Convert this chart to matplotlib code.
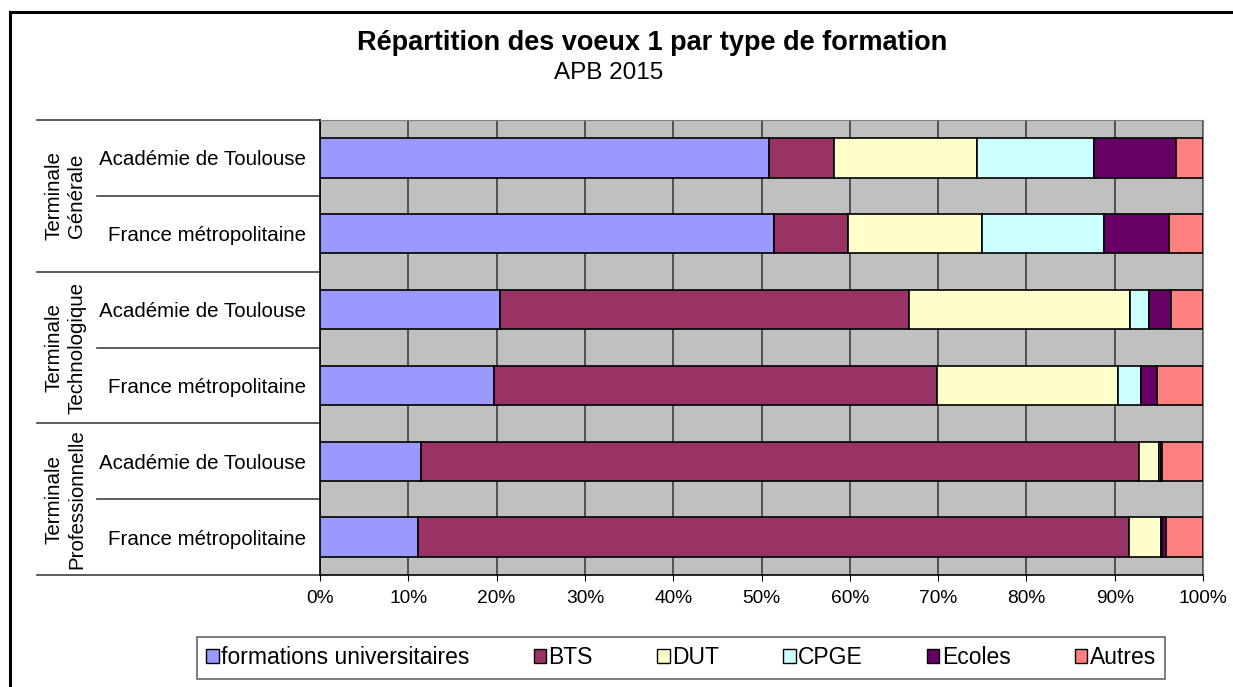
import numpy as np
import matplotlib.pyplot as plt
from matplotlib.patches import Patch
from matplotlib.lines import Line2D

plt.rcParams['font.family'] = ['Liberation Sans', 'DejaVu Sans']

# rows from top to bottom
rows = ['Académie de Toulouse', 'France métropolitaine',
        'Académie de Toulouse', 'France métropolitaine',
        'Académie de Toulouse', 'France métropolitaine']
groups = ['Terminale\nGénérale', 'Terminale\nTechnologique', 'Terminale\nProfessionnelle']

series = ['formations universitaires', 'BTS', 'DUT', 'CPGE', 'Ecoles', 'Autres']
univ   = [50.8, 51.4, 20.4, 19.7, 11.4, 11.1]
bts    = [7.4, 8.4, 46.3, 50.2, 81.3, 80.5]
dut    = [16.2, 15.2, 25.0, 20.5, 2.3, 3.7]
cpge   = [13.3, 13.8, 2.2, 2.6, 0.2, 0.1]
ecoles = [9.2, 7.3, 2.5, 1.8, 0.2, 0.4]
autres = [3.1, 3.9, 3.6, 5.2, 4.6, 4.2]
colors = ['#9999FF', '#993366', '#FFFFCC', '#CCFFFF', '#660066', '#FF8080']

data = np.array([univ, bts, dut, cpge, ecoles, autres])
data = data / data.sum(axis=0) * 100

fig = plt.figure(figsize=(12.33, 6.87), dpi=100)
ax = fig.add_axes([320/1233, 112/687, 883/1233, 455/687])
ax.set_facecolor('#C0C0C0')

y = np.arange(len(rows))
left = np.zeros(len(rows))
for vals, c, name in zip(data, colors, series):
    ax.barh(y, vals, left=left, height=0.52, color=c, edgecolor='black',
            linewidth=1.2, label=name, zorder=3)
    left += vals

ax.set_xlim(0, 100)
ax.set_ylim(len(rows) - 0.5, -0.5)
ax.set_xticks(np.arange(0, 101, 10))
ax.set_xticklabels([f'{v}%' for v in range(0, 101, 10)], fontsize=13.8)
ax.xaxis.grid(True, color='#333333', linewidth=1.1, zorder=1)
ax.set_axisbelow(True)
ax.set_yticks(y)
ax.set_yticklabels(rows, fontsize=14.8)
ax.tick_params(axis='y', length=0, pad=10)
ax.tick_params(axis='x', length=4, color='black', pad=7)
for s in ['top', 'right']:
    ax.spines[s].set_color('#808080')
for s in ['left', 'bottom']:
    ax.spines[s].set_color('black')
    ax.spines[s].set_linewidth(1.2)

# hierarchical category axis on the left
tr = ax.get_yaxis_transform()
for b in [-0.5, 1.5, 3.5, 5.5]:
    ax.plot([-0.3205, 0], [b, b], transform=tr, color='#404040', lw=1.2, clip_on=False)
for b in [0.5, 2.5, 4.5]:
    ax.plot([-0.2525, 0], [b, b], transform=tr, color='#404040', lw=1.2, clip_on=False)
for i, g in enumerate(groups):
    ax.text(-0.2885, 2 * i + 0.5, g, transform=tr, rotation=90, ha='center',
            va='center', fontsize=14.8, linespacing=1.25)

fig.text(652/1233, 1 - 43/687, 'Répartition des voeux 1 par type de formation',
         ha='center', va='center', fontsize=19.5, fontweight='bold')
fig.text(609/1233, 1 - 73/687, 'APB 2015', ha='center', va='center', fontsize=17.5)

handles = [Patch(facecolor=c, edgecolor='black', linewidth=1) for c in colors]
leg = fig.legend(handles, series, loc='center', bbox_to_anchor=(681/1233, 1 - 658/687),
                 ncol=6, fontsize=16.5, frameon=True, fancybox=False,
                 handlelength=0.55, handleheight=0.55, handletextpad=0.1,
                 columnspacing=2.8, borderpad=0.42)
leg.get_frame().set_edgecolor('#404040')
leg.get_frame().set_linewidth(1.2)

# outer frame (left and top edges visible)
fig.add_artist(Line2D([10/1233, 10/1233], [0, 1 - 12/687], transform=fig.transFigure,
                      color='black', lw=2.2))
fig.add_artist(Line2D([10/1233, 1], [1 - 12/687, 1 - 12/687], transform=fig.transFigure,
                      color='black', lw=2.2))

fig.savefig('out.png', dpi=100)
